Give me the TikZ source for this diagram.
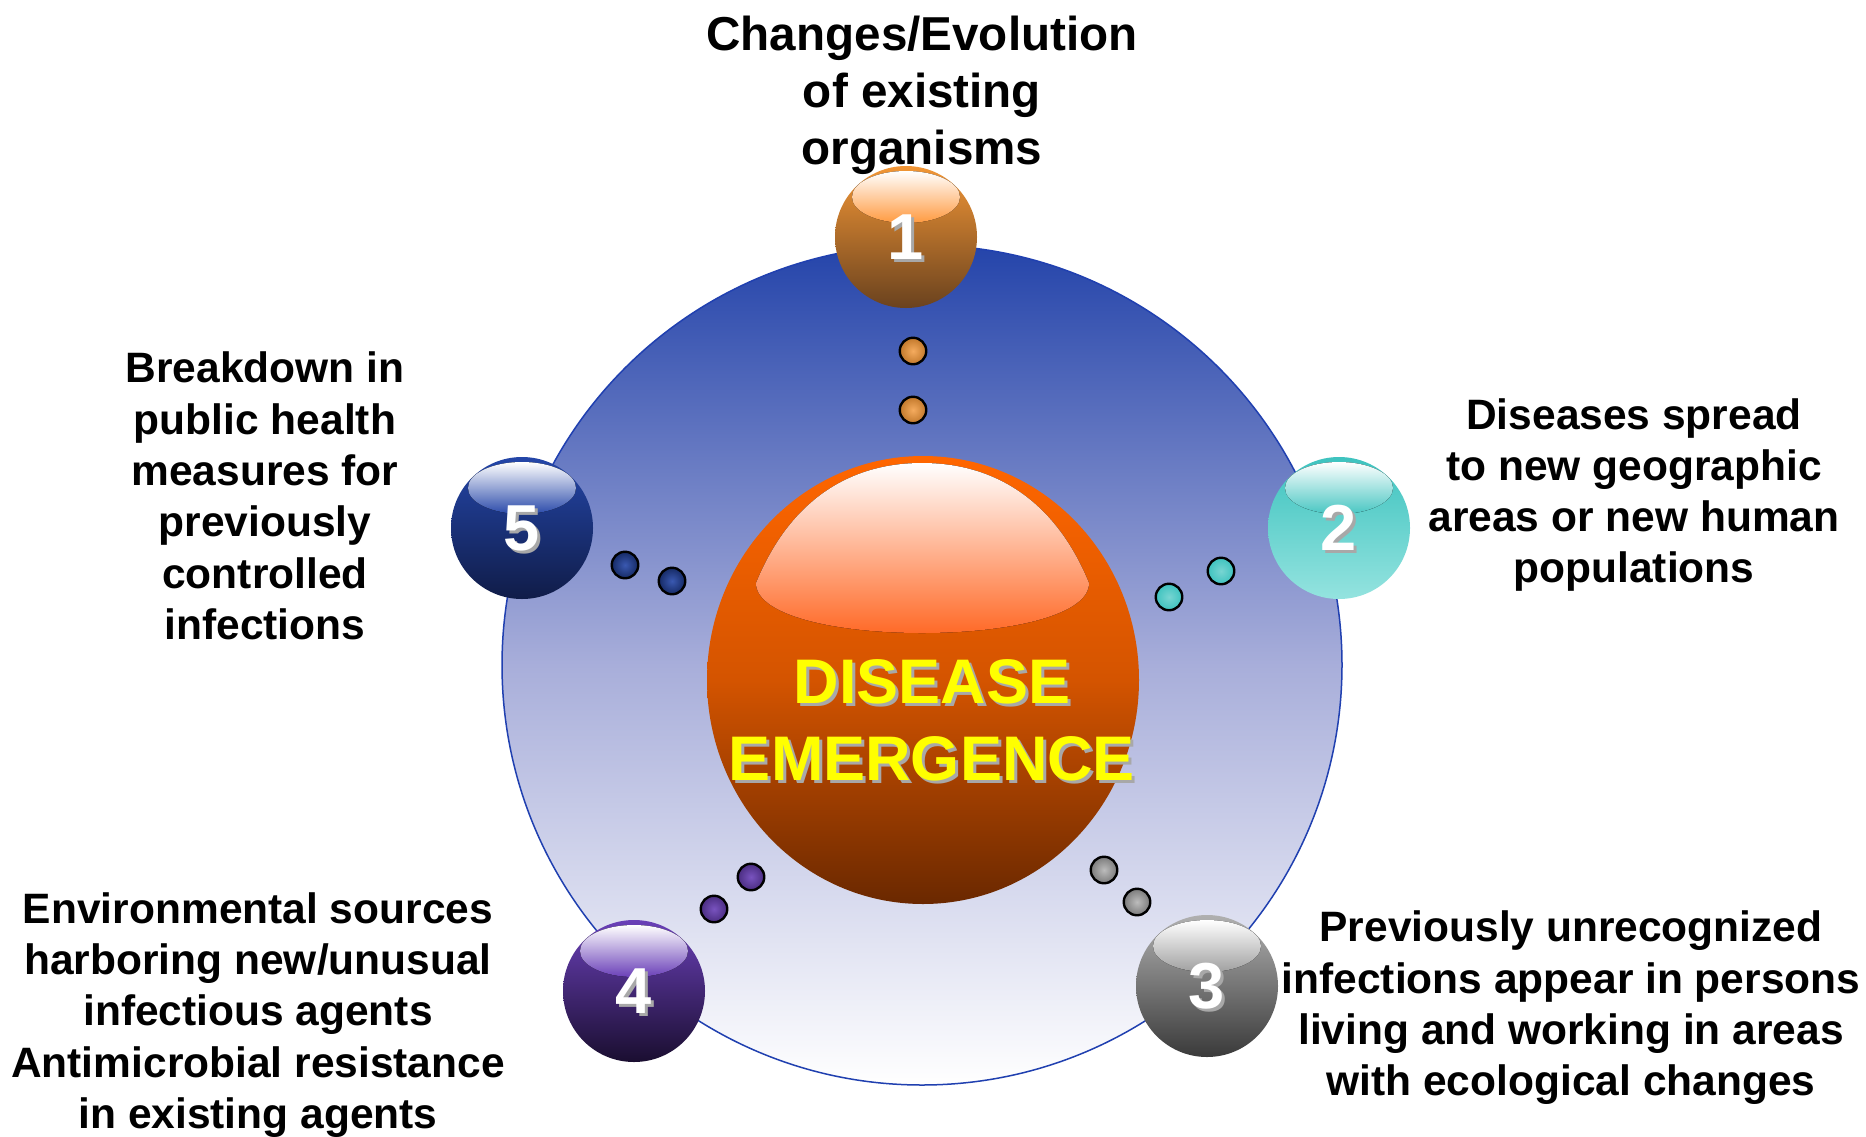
\documentclass[tikz,border=0pt]{standalone}
\usepackage{fontspec}
\setmainfont{Liberation Sans}
\usetikzlibrary{shapes.geometric}
\definecolor{rimblue}{HTML}{2040B0}
\definecolor{ringtop}{HTML}{2444AA}
\definecolor{ringmid}{HTML}{A8AEDA}
\definecolor{sphtop}{HTML}{FF6600}
\definecolor{sphmid}{HTML}{D45400}
\definecolor{sphbot}{HTML}{6A2800}
\definecolor{sphhl}{HTML}{FF6A28}
\definecolor{txtshadow}{HTML}{A8A8A8}
\definecolor{discyellow}{HTML}{FFFF00}
\definecolor{oTop}{HTML}{F29636}
\definecolor{oBot}{HTML}{6A421E}
\definecolor{oHl}{HTML}{FF9A40}
\definecolor{tTop}{HTML}{3EC3BF}
\definecolor{tBot}{HTML}{94E3DF}
\definecolor{tHl}{HTML}{48C6C2}
\definecolor{gTop}{HTML}{B0B0B0}
\definecolor{gBot}{HTML}{3A3A3A}
\definecolor{gHl}{HTML}{A0A0A0}
\definecolor{pTop}{HTML}{6A40B8}
\definecolor{pBot}{HTML}{1A0E30}
\definecolor{pHl}{HTML}{6A40B8}
\definecolor{bTop}{HTML}{2446A8}
\definecolor{bBot}{HTML}{101C48}
\definecolor{bHl}{HTML}{2A4AAA}
\newcommand\glossball[7]{%
  \node[circle, minimum size=142pt, inner sep=0pt, top color=#4, bottom color=#5] (#1) at (#2,#3) {};
  \fill[top color=white, bottom color=#6] ([yshift=40pt]#1.center) ellipse [x radius=54pt, y radius=26pt];
  \node[numsh] (#1s) at ([xshift=3pt,yshift=-3pt]#1.center) {#7};
  \node[numtx] (#1n) at (#1.center) {#7};
}
\begin{document}
\begin{tikzpicture}[x=1pt,y=-1pt,
  lbl/.style={font=\fontsize{42.5}{51.3}\selectfont\bfseries, align=center, text=black, inner sep=0pt},
  toplbl/.style={font=\fontsize{47.6}{57}\selectfont\bfseries, align=center, text=black, inner sep=0pt},
  numtx/.style={font=\fontsize{65}{65}\selectfont\bfseries, text=white, inner sep=0pt},
  numsh/.style={font=\fontsize{65}{65}\selectfont\bfseries, text=txtshadow, inner sep=0pt},
  coretx/.style={font=\fontsize{63}{77}\selectfont\bfseries, align=center, inner sep=0pt},
  dot/.style={circle, draw=black, line width=2.4pt, minimum size=26.5pt, inner sep=0pt}]
\useasboundingbox (0,0) rectangle (1866,1136);
\fill[white] (0,0) rectangle (1866,1136);

% big ring
\node[circle, minimum size=840pt, inner sep=0pt, draw=rimblue, line width=1.5pt,
      top color=ringtop, bottom color=white, middle color=ringmid] (ring) at (922,665) {};

% central sphere
\node[ellipse, minimum width=432pt, minimum height=448pt, inner sep=0pt,
      top color=sphtop, bottom color=sphbot, middle color=sphmid] (core) at (923,680) {};
\fill[top color=white, bottom color=sphhl]
  (756,583) .. controls (790,500) and (850,463) .. (922,463)
  .. controls (994,463) and (1055,500) .. (1089,583)
  .. controls (1089,615) and (1010,633) .. (922,633)
  .. controls (834,633) and (756,615) .. (756,583) -- cycle;
\node[coretx, text=txtshadow] (coresh) at (935,723) {DISEASE\\EMERGENCE};
\node[coretx, text=discyellow] (coretxt) at (932,720) {DISEASE\\EMERGENCE};

% small dots
\node[dot, inner color=oTop!80!white, outer color=oTop!80!black] (d1a) at (913,351) {};
\node[dot, inner color=oTop!80!white, outer color=oTop!80!black] (d1b) at (913,410) {};
\node[dot, inner color=tTop!70!white, outer color=tTop] (d2a) at (1221,571) {};
\node[dot, inner color=tTop!70!white, outer color=tTop] (d2b) at (1169,597) {};
\node[dot, inner color=gTop!85!white, outer color=gTop!70!black] (d3a) at (1104,870) {};
\node[dot, inner color=gTop!85!white, outer color=gTop!70!black] (d3b) at (1137,902) {};
\node[dot, inner color=pTop!90!white, outer color=pTop!70!black] (d4a) at (751,877) {};
\node[dot, inner color=pTop!90!white, outer color=pTop!70!black] (d4b) at (714,909) {};
\node[dot, inner color=bTop!90!white, outer color=bTop!60!black] (d5a) at (625,565) {};
\node[dot, inner color=bTop!90!white, outer color=bTop!60!black] (d5b) at (672,581) {};

% numbered balls
\glossball{b1}{906}{237}{oTop}{oBot}{oHl}{1}
\glossball{b2}{1339}{528}{tTop}{tBot}{tHl}{2}
\glossball{b3}{1207}{986}{gTop}{gBot}{gHl}{3}
\glossball{b4}{634}{991}{pTop}{pBot}{pHl}{4}
\glossball{b5}{522}{528}{bTop}{bBot}{bHl}{5}

% labels
\node[toplbl] (t1) at (922,95) {Changes/Evolution\\of existing\\organisms};
\node[lbl] (t2) at (1634,495) {Diseases spread\\to new geographic\\areas or new human\\populations};
\node[lbl] (t3) at (1571,1008) {Previously unrecognized\\infections appear in persons\\living and working in areas\\with ecological changes};
\node[lbl] (t4) at (258,1015) {Environmental sources\\harboring new/unusual\\infectious agents\\Antimicrobial resistance\\in existing agents};
\node[lbl] (t5) at (265,496) {Breakdown in\\public health\\measures for\\previously\\controlled\\infections};
\end{tikzpicture}
\end{document}
